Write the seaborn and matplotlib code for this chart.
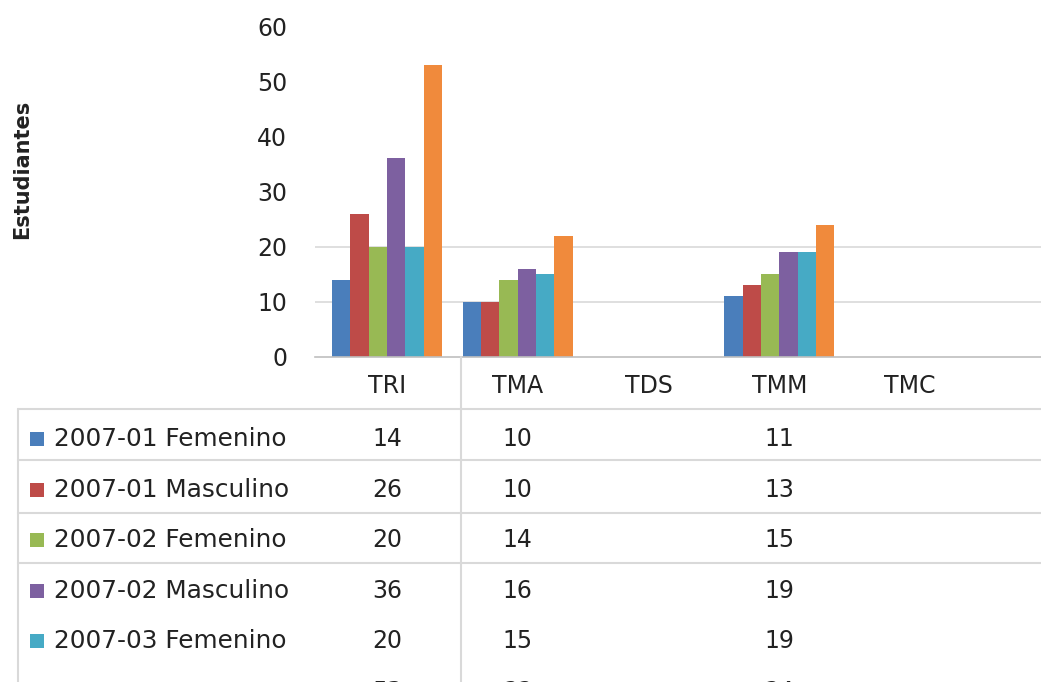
import matplotlib
matplotlib.use("Agg")
import matplotlib.pyplot as plt
from matplotlib.patches import Rectangle
from matplotlib.lines import Line2D
from matplotlib.transforms import blended_transform_factory
import seaborn as sns
import pandas as pd
import numpy as np

categories = ["TRI", "TMA", "TDS", "TMM", "TMC"]
series = ["2007-01 Femenino", "2007-01 Masculino", "2007-02 Femenino",
          "2007-02 Masculino", "2007-03 Femenino", "2007-03 Masculino"]
s_2007_01_fem = [14, 10, None, 11, None]
s_2007_01_mas = [26, 10, None, 13, None]
s_2007_02_fem = [20, 14, None, 15, None]
s_2007_02_mas = [36, 16, None, 19, None]
s_2007_03_fem = [20, 15, None, 19, None]
s_2007_03_mas = [53, 22, None, 24, None]
values = [s_2007_01_fem, s_2007_01_mas, s_2007_02_fem,
          s_2007_02_mas, s_2007_03_fem, s_2007_03_mas]
colors = ["#4A7EBB", "#BE4B48", "#98B954", "#7D60A0", "#46AAC5", "#F08A3C"]
yticks = [0, 10, 20, 30, 40, 50, 60]

rows = []
for s, vals in zip(series, values):
    for c, v in zip(categories, vals):
        rows.append({"cat": c, "serie": s, "val": np.nan if v is None else v})
df = pd.DataFrame(rows)

sns.set_theme(style="white")
plt.rcParams["font.family"] = ["DejaVu Sans"]

W, H = 1041, 682
fig = plt.figure(figsize=(W / 100, H / 100), dpi=100)
ax = fig.add_axes([315 / W, 1 - 357 / H, 1 - 315 / W, (357 - 26) / H])

sns.barplot(data=df, x="cat", y="val", hue="serie", order=categories,
            hue_order=series, palette=colors, width=0.84, ax=ax,
            legend=False, saturation=1, linewidth=0)

ax.set_xlim(-0.55, 5.0)
ax.set_ylim(0, 60)
ax.set_yticks(yticks)
ax.set_yticklabels([str(t) for t in yticks], fontsize=17, color="#222222")
ax.tick_params(axis="y", length=0, pad=20)
ax.set_xticks(range(len(categories)))
ax.set_xticklabels(categories, fontsize=17, color="#222222")
ax.tick_params(axis="x", length=0, pad=12)
ax.set_xlabel("")
ax.set_ylabel("")
for sp in ["top", "right", "left"]:
    ax.spines[sp].set_visible(False)
ax.spines["bottom"].set_color("#BFBFBF")
ax.spines["bottom"].set_linewidth(1.2)

ax.yaxis.grid(True, color="#D9D9D9", linewidth=1.2)
for i, gl in enumerate(ax.get_ygridlines()):
    if yticks[i] not in (10, 20):
        gl.set_visible(False)
ax.set_axisbelow(True)

fig.text(22 / W, 1 - 169 / H, "Estudiantes", rotation=90, fontsize=15,
         fontweight="bold", ha="center", va="center", color="#222222")

# data table
tr = blended_transform_factory(ax.transData, fig.transFigure)
row_y0, row_dy = 439, 50.6
for i, (s, vals, col) in enumerate(zip(series, values, colors)):
    yc = row_y0 + row_dy * i
    yf = 1 - yc / H
    for j, v in enumerate(vals):
        if v is not None:
            ax.text(j, yf, str(v), transform=tr, ha="center", va="center",
                    fontsize=17, color="#222222", clip_on=False)
    if i < 5:
        fig.patches.append(Rectangle((30 / W, 1 - (yc + 7) / H), 14 / W, 14 / H,
                                     transform=fig.transFigure, facecolor=col,
                                     edgecolor="none"))
        fig.text(54 / W, yf, s, fontsize=17.8, ha="left", va="center",
                 color="#222222")

lc = "#D9D9D9"
for yl in [409, 460, 513, 563]:
    fig.lines.append(Line2D([18 / W, 1], [1 - yl / H, 1 - yl / H],
                            transform=fig.transFigure, color=lc, linewidth=1.5))
fig.lines.append(Line2D([18 / W, 18 / W], [1 - 409 / H, 0],
                        transform=fig.transFigure, color=lc, linewidth=1.5))
fig.lines.append(Line2D([461 / W, 461 / W], [1 - 357 / H, 0],
                        transform=fig.transFigure, color=lc, linewidth=1.5))

fig.savefig("out.png", dpi=100)
